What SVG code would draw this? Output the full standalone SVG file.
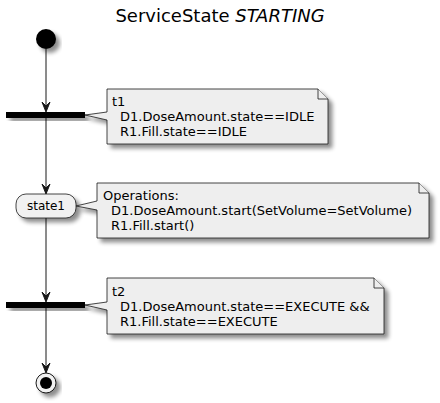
<svg xmlns="http://www.w3.org/2000/svg" width="440" height="403" viewBox="0 0 440 403">
<defs>
<filter id="sh" x="-20%" y="-20%" width="150%" height="160%">
<feGaussianBlur in="SourceAlpha" stdDeviation="2"/>
<feOffset dx="4" dy="4" result="b"/>
<feComponentTransfer><feFuncA type="linear" slope="0.45"/></feComponentTransfer>
<feMerge><feMergeNode/><feMergeNode in="SourceGraphic"/></feMerge>
</filter>
</defs>
<style>
text{font-family:"DejaVu Sans",Verdana,sans-serif;fill:#000}
.note{fill:#EEEEEE;stroke:#181818;stroke-width:0.8}
.nt{font-size:13px}
.line{stroke:#181818;stroke-width:1;fill:none}
.ah{fill:#181818;stroke:#181818;stroke-width:1}
.bar{fill:#000}
</style>
<text x="220" y="22" text-anchor="middle" font-size="18">ServiceState <tspan font-style="italic">STARTING</tspan></text>

<g id="connectors">
<line class="line" x1="46" y1="49" x2="46" y2="111"/>
<polygon class="ah" points="42,102 46,112 50,102 46,106"/>
<line class="line" x1="46" y1="118" x2="46" y2="193"/>
<polygon class="ah" points="42,184 46,194 50,184 46,188"/>
<line class="line" x1="46" y1="218" x2="46" y2="301"/>
<polygon class="ah" points="42,292 46,302 50,292 46,296"/>
<line class="line" x1="46" y1="308" x2="46" y2="372"/>
<polygon class="ah" points="42,363 46,373 50,363 46,367"/>
</g>

<g id="start"><circle cx="46" cy="39" r="10" fill="#000" filter="url(#sh)"/></g>

<g id="bar1"><rect class="bar" x="6" y="112" width="79" height="6" filter="url(#sh)"/></g>

<g id="note1">
<path class="note" d="M107,89 H318 L328,99 V144 H107 V120 L85,115 L107,112 Z" filter="url(#sh)"/>
<path class="note" d="M318,89 V99 H328"/>
<text class="nt" x="112" y="106">t1</text>
<text class="nt" x="120" y="121">D1.DoseAmount.state==IDLE</text>
<text class="nt" x="120" y="136">R1.Fill.state==IDLE</text>
</g>

<g id="state1">
<rect x="16" y="194" width="60" height="24" rx="10" ry="10" fill="#F1F1F1" stroke="#181818" stroke-width="0.8" filter="url(#sh)"/>
<text x="46" y="210" text-anchor="middle" font-size="12">state1</text>
</g>

<g id="note2">
<path class="note" d="M97,183 H419 L429,193 V238 H97 V210 L76,206 L97,201 Z" filter="url(#sh)"/>
<path class="note" d="M419,183 V193 H429"/>
<text class="nt" x="103" y="200">Operations:</text>
<text class="nt" x="111" y="215">D1.DoseAmount.start(SetVolume=SetVolume)</text>
<text class="nt" x="111" y="230">R1.Fill.start()</text>
</g>

<g id="bar2"><rect class="bar" x="6" y="302" width="79" height="6" filter="url(#sh)"/></g>

<g id="note3">
<path class="note" d="M107,278 H374 L384,288 V334 H107 V310 L85,305 L107,302 Z" filter="url(#sh)"/>
<path class="note" d="M374,278 V288 H384"/>
<text class="nt" x="112" y="296">t2</text>
<text class="nt" x="120" y="311">D1.DoseAmount.state==EXECUTE &amp;&amp;</text>
<text class="nt" x="120" y="326">R1.Fill.state==EXECUTE</text>
</g>

<g id="end">
<circle cx="46" cy="383" r="10" fill="#F1F1F1" stroke="#181818" stroke-width="1" filter="url(#sh)"/>
<circle cx="46" cy="383" r="6" fill="#000"/>
</g>
</svg>
